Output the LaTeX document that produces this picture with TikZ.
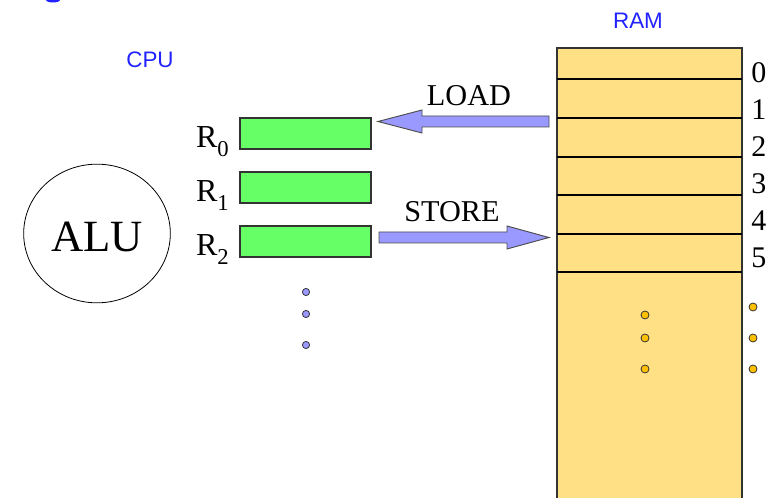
\documentclass[tikz,border=0pt]{standalone}
\usepackage{fontspec}
\setmainfont{Liberation Serif}
\newfontfamily\labelsans{Liberation Sans}
\usetikzlibrary{shapes.geometric}

\definecolor{regfill}{HTML}{66FF66}
\definecolor{arrowfill}{HTML}{9999FF}
\definecolor{ramfill}{HTML}{FFE085}
\definecolor{dotorange}{HTML}{FFC000}
\definecolor{labelblue}{HTML}{2222FF}

\newcommand{\regname}[1]{R\raisebox{-6.75pt}{\fontsize{17}{17}\selectfont #1}}

\begin{document}
\begin{tikzpicture}[x=0.75pt,y=-0.75pt,
    reg/.style={draw=black!80, fill=regfill, line width=0.8pt, inner sep=0pt,
      minimum width=98.25pt, minimum height=23.25pt},
    fat/.style={fill=arrowfill, draw=black!70, line width=0.7pt},
    optext/.style={font=\fontsize{22.7}{26}\selectfont, inner sep=0pt},
    sanslabel/.style={font=\labelsans\fontsize{16.8}{19}\selectfont, text=labelblue, inner sep=0pt}]
    \useasboundingbox (0,0) rectangle (773,498);

    % bit of a cut-off heading
    \fill[labelblue] (53,0) ellipse [x radius=7, y radius=2.5];

    \node[sanslabel] (cpu) at (150,60) {CPU};
    \node[sanslabel] (ram) at (638,21) {RAM};

    % ALU
    \node[ellipse, draw, line width=0.6pt, minimum width=110pt, minimum height=104pt,
      text height=27.75pt, text depth=0pt,
      font=\fontsize{33.5}{36}\selectfont] (alu) at (97,233.5) {ALU};

    % registers
    \node[reg] (r0) at (305.5,133.5) {};
    \node[reg] (r1) at (305.5,187.5) {};
    \node[reg] (r2) at (305.5,241.5) {};
    \node[anchor=base east, inner sep=0pt, font=\fontsize{24}{28}\selectfont] (l0) at (229,148) {\regname{0}};
    \node[anchor=base east, inner sep=0pt, font=\fontsize{24}{28}\selectfont] (l1) at (229,202) {\regname{1}};
    \node[anchor=base east, inner sep=0pt, font=\fontsize{24}{28}\selectfont] (l2) at (229,256) {\regname{2}};
    \foreach \y in {292,314,345}
      \filldraw[fill=arrowfill, draw=black!80, line width=0.6pt] (306,\y) circle[radius=2.7pt];

    % RAM
    \fill[ramfill] (557,48) rectangle (742,498);
    \draw[black!80, line width=1.1pt] (557,498) -- (557,48) -- (742,48) -- (742,498);
    \foreach \y in {79,118,157,195,234,272}
      \draw[line width=1.5pt] (557,\y) -- (742,\y);
    \foreach \i in {0,...,5}
      \node[anchor=base west, inner sep=0pt, font=\fontsize{22.5}{26}\selectfont] (a\i) at (751,83+37*\i) {\i};
    \foreach \y in {315,338,369}
      \filldraw[fill=dotorange, draw=black!80, line width=0.6pt] (645,\y) circle[radius=3pt];
    \foreach \y in {307,338,369}
      \filldraw[fill=dotorange, draw=black!80, line width=0.6pt] (753,\y) circle[radius=3pt];

    % LOAD / STORE
    \draw[fat] (549,116) -- (422,116) -- (422,110) -- (378,121.5) -- (422,133) -- (422,127) -- (549,127) -- cycle;
    \node[optext, anchor=base] (load) at (469,106) {LOAD};
    \draw[fat] (379,232) -- (507,232) -- (507,226) -- (549,237.5) -- (507,249) -- (507,243) -- (379,243) -- cycle;
    \node[optext, anchor=base] (store) at (452,222) {STORE};
\end{tikzpicture}
\end{document}
